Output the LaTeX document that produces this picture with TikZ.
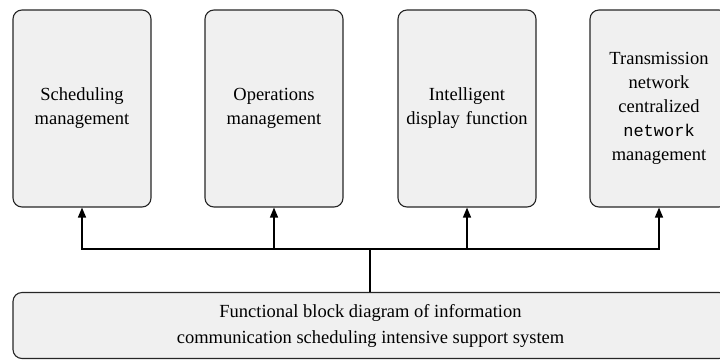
\documentclass[tikz,border=0pt]{standalone}
\usepackage{fontspec}
\setmainfont{Liberation Serif}
\newfontfamily\monofont{Liberation Mono}
\usetikzlibrary{arrows.meta}
\definecolor{boxgray}{HTML}{F0F0F0}
\definecolor{edgegray}{HTML}{262626}
\tikzset{
  funcbox/.style={draw=edgegray, fill=boxgray, line width=1.1pt, rounded corners=9pt,
    minimum width=138pt, minimum height=197pt, text width=132pt, align=center,
    inner sep=0pt, font=\fontsize{18.5}{24}\selectfont},
  basebox/.style={draw=edgegray, fill=boxgray, line width=1.1pt, rounded corners=9pt,
    minimum width=715pt, minimum height=66pt, align=center, inner sep=0pt,
    font=\fontsize{18.5}{26}\selectfont},
  link/.style={line width=1.4pt, draw=black},
  feed/.style={link, -{Triangle[length=10pt,width=8pt]}}
}
\begin{document}
\begin{tikzpicture}[x=1pt,y=-1pt]
  \useasboundingbox (0,0) rectangle (720,360);
  % function modules
  \node[funcbox] (sched) at (82,108.5) {Scheduling\\management};
  \node[funcbox] (ops) at (274,108.5) {Operations\\management};
  \node[funcbox] (disp) at (467,108.5) {Intelligent\\display function};
  \node[funcbox] (netm) at (659,108.5) {Transmission\\network\\centralized\\{\monofont\fontsize{17}{24}\selectfont network}\\management};
  % supporting system
  \node[basebox] (sys) at (370.5,325.5) {Functional block diagram of information\\communication scheduling intensive support system};
  % distribution bus
  \coordinate (hub) at (370,249);
  \draw[link] (sys.north -| hub) -- (hub);
  \draw[feed] (hub) -| (sched.south);
  \draw[feed] (hub) -| (ops.south);
  \draw[feed] (hub) -| (disp.south);
  \draw[feed] (hub) -| (netm.south);
\end{tikzpicture}
\end{document}
